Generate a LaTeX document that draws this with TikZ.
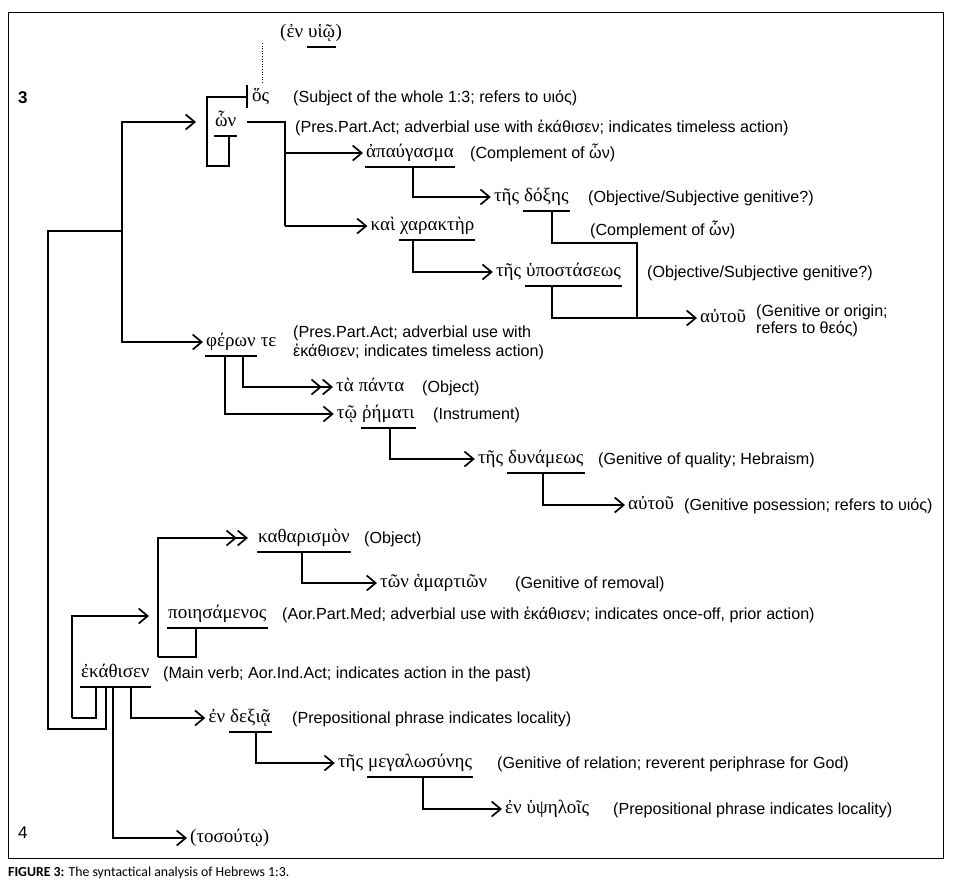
\documentclass[tikz,border=0pt]{standalone}
\usepackage{fontspec}
\setmainfont{Liberation Serif}
\newfontfamily\gkfont{Liberation Serif}
\newfontfamily\enfont{Liberation Sans}
\newfontfamily\capfont{Carlito}
\usetikzlibrary{arrows.meta,calc}
\begin{document}
\begin{tikzpicture}[x=1pt,y=-1pt,
  gk/.style={font=\gkfont\fontsize{19}{22}\selectfont, inner sep=0pt, text height=9pt, text depth=0pt, anchor=west},
  en/.style={font=\enfont\fontsize{16.1}{18}\selectfont, inner sep=0pt, text height=11pt, text depth=0pt, anchor=west},
  ln/.style={line width=1.7pt},
  arr/.style={line width=1.7pt, -{Straight Barb[length=9pt,width=15pt]}, shorten >=3pt},
  darr/.style={line width=1.7pt, -{Straight Barb[length=9pt,width=15pt]Straight Barb[length=9pt,width=15pt]}, shorten >=3pt},
  ulp/.style={line width=1.7pt}]
\fill[white] (0,0) rectangle (953,886);
\useasboundingbox (0,0) rectangle (953,886);
\draw[line width=1pt] (8,12) rectangle (943,858);

% ---------- Greek nodes ----------
\node[gk] (hyio) at (308,33) {υἱῷ};
\node[gk,anchor=east] (hyioA) at ([xshift=-4.7pt]hyio.west) {(ἐν};
\node[gk] (hyioB) at (hyio.east) {)};
\node[gk] (hos) at (252,97) {ὅς};
\node[gk] (hon) at (215,122) {ὧν};
\node[gk] (apaug) at (366,153) {ἀπαύγασμα};
\node[gk] (char) at (400,226) {χαρακτὴρ};
\node[gk,anchor=east] (kai) at ([xshift=-4.7pt]char.west) {καὶ};
\node[gk] (doxa) at (524,197) {δόξης};
\node[gk,anchor=east] (doxart) at ([xshift=-4.7pt]doxa.west) {τῆς};
\node[gk] (hypo) at (526,272) {ὑποστάσεως};
\node[gk,anchor=east] (hypoart) at ([xshift=-4.7pt]hypo.west) {τῆς};
\node[gk] (autA) at (700,318) {αὐτοῦ};
\node[gk] (feron) at (206,342) {φέρων};
\node[gk] (te) at ([xshift=4.7pt]feron.east) {τε};
\node[gk] (panta) at (336,387) {τὰ πάντα};
\node[gk] (rhem) at (362,414) {ῥήματι};
\node[gk,anchor=east] (tw) at ([xshift=-4.7pt]rhem.west) {τῷ};
\node[gk] (dyn) at (508,459) {δυνάμεως};
\node[gk,anchor=east] (dynart) at ([xshift=-4.7pt]dyn.west) {τῆς};
\node[gk] (autB) at (628,505) {αὐτοῦ};
\node[gk] (kath) at (258,538) {καθαρισμὸν};
\node[gk] (hamart) at (380,583) {τῶν ἁμαρτιῶν};
\node[gk] (poi) at (168,614) {ποιησάμενος};
\node[gk] (ekath) at (81,673) {ἐκάθισεν};
\node[gk] (dexia) at (230,718) {δεξιᾷ};
\node[gk,anchor=east] (en1) at ([xshift=-4.7pt]dexia.west) {ἐν};
\node[gk] (meg) at (368,763) {μεγαλωσύνης};
\node[gk,anchor=east] (megart) at ([xshift=-4.7pt]meg.west) {τῆς};
\node[gk] (hyps) at (505,809) {ἐν ὑψηλοῖς};
\node[gk] (tos) at (190,838) {(τοσούτῳ)};

% ---------- English nodes ----------
\node[en,font=\enfont\bfseries\fontsize{17}{19}\selectfont] (three) at (18,98) {3};
\node[en,font=\enfont\fontsize{17}{19}\selectfont] (four) at (18,833) {4};
\node[en] (l1) at (293,97) {(Subject of the whole 1:3; refers to υιός)};
\node[en] (l2) at (295,127) {(Pres.Part.Act; adverbial use with ἐκάθισεν; indicates timeless action)};
\node[en] (l3) at (470,153) {(Complement of ὧν)};
\node[en] (l4) at (588,197) {(Objective/Subjective genitive?)};
\node[en] (l5) at (590,230) {(Complement of ὧν)};
\node[en] (l6) at (647,272) {(Objective/Subjective genitive?)};
\node[en] (l7) at (756,311) {(Genitive or origin;};
\node[en] (l7b) at (756,328) {refers to θεός)};
\node[en] (l8) at (293,332) {(Pres.Part.Act; adverbial use with};
\node[en] (l8b) at (293,351) {ἐκάθισεν; indicates timeless action)};
\node[en] (l9) at (422,387) {(Object)};
\node[en] (l10) at (433,414) {(Instrument)};
\node[en] (l11) at (598,459) {(Genitive of quality; Hebraism)};
\node[en] (l12) at (684,505) {(Genitive posession; refers to υιός)};
\node[en] (l13) at (364,538) {(Object)};
\node[en] (l14) at (515,583) {(Genitive of removal)};
\node[en] (l15) at (282,614) {(Aor.Part.Med; adverbial use with ἐκάθισεν; indicates once-off, prior action)};
\node[en] (l16) at (163,673) {(Main verb; Aor.Ind.Act; indicates action in the past)};
\node[en] (l17) at (292,718) {(Prepositional phrase indicates locality)};
\node[en] (l18) at (497,763) {(Genitive of relation; reverent periphrase for God)};
\node[en] (l19) at (613,809) {(Prepositional phrase indicates locality)};

\node[anchor=west,inner sep=0pt,font=\capfont\fontsize{13.8}{16}\selectfont] (cap) at (8,873) {\textbf{FIGURE 3:} The syntactical analysis of Hebrews 1:3.};

% ---------- underlines ----------
\foreach \w in {hyio,hon,apaug,char,doxa,hypo,feron,rhem,dyn,kath,poi,ekath,dexia,meg}{
  \draw[ulp] ($(\w.south west)+(-1,9)$) -- ($(\w.south east)+(1,9)$);
}

% ---------- junction coordinates ----------
\coordinate (hosbar) at (247,97);
\coordinate (hosbox) at (207,166);
\coordinate (honu) at (229,135.5);
\coordinate (honout) at (247,122);
\coordinate (honin) at (199,122);
\coordinate (split) at (285,153);
\coordinate (kaiA) at (285,226);
\coordinate (j3) at (122,231);
\coordinate (apu) at (413,166.5);
\coordinate (chu) at (413,239.5);
\coordinate (doxu) at (552,210.5);
\coordinate (doxc) at (637,243);
\coordinate (hypu) at (552,285.5);
\coordinate (feu1) at (243,355.5);
\coordinate (feu2) at (225,355.5);
\coordinate (rhu) at (390,427.5);
\coordinate (dynu) at (543,472.5);
\coordinate (kathin) at (248,538);
\coordinate (kathu) at (302,551.5);
\coordinate (poiu) at (196,627.5);
\coordinate (poib) at (158,657);
\coordinate (poiin) at (149,616);
\coordinate (eku1) at (96,686.5);
\coordinate (eku2) at (106,686.5);
\coordinate (eku3) at (113,686.5);
\coordinate (eku4) at (131,686.5);
\coordinate (bl) at (48,729);
\coordinate (lb) at (72,718);
\coordinate (dexu) at (256,732.5);
\coordinate (megu) at (423,777.5);

% ---------- connectors ----------
\draw[line width=1pt, dash pattern=on 1pt off 1.6pt] (262,43) -- (262,84);
\draw[ln] (247,85) -- (247,108);
\draw[ln] (hosbar) -| (hosbox) -| (honu);
\draw[ln] (honout) -| (kaiA);
\draw[arr] (split) -- (apaug.west);
\draw[arr] (kaiA) -- (kai.west);
\draw[arr] (j3) |- (honin);
\draw[arr] (j3) |- (feron.west);
\draw[arr] (apu) |- (doxart.west);
\draw[arr] (chu) |- (hypoart.west);
\draw[ln] (doxu) |- (doxc) -- (doxc |- autA.west);
\draw[arr] (hypu) |- (autA.west);
\draw[darr] (feu1) |- (panta.west);
\draw[arr] (feu2) |- (tw.west);
\draw[arr] (rhu) |- (dynart.west);
\draw[arr] (dynu) |- (autB.west);
\draw[ln] (poiu) |- (poib);
\draw[darr, shorten >=0pt] (poib) |- (kathin);
\draw[arr] (kathu) |- (hamart.west);
\draw[ln] (eku1) |- (lb);
\draw[arr, shorten >=0pt] (lb) |- (poiin);
\draw[ln] (eku2) |- (bl) |- (j3);
\draw[arr] (eku3) |- (tos.west);
\draw[arr] (eku4) |- (en1.west);
\draw[arr] (dexu) |- (megart.west);
\draw[arr] (megu) |- (hyps.west);
\end{tikzpicture}
\end{document}
